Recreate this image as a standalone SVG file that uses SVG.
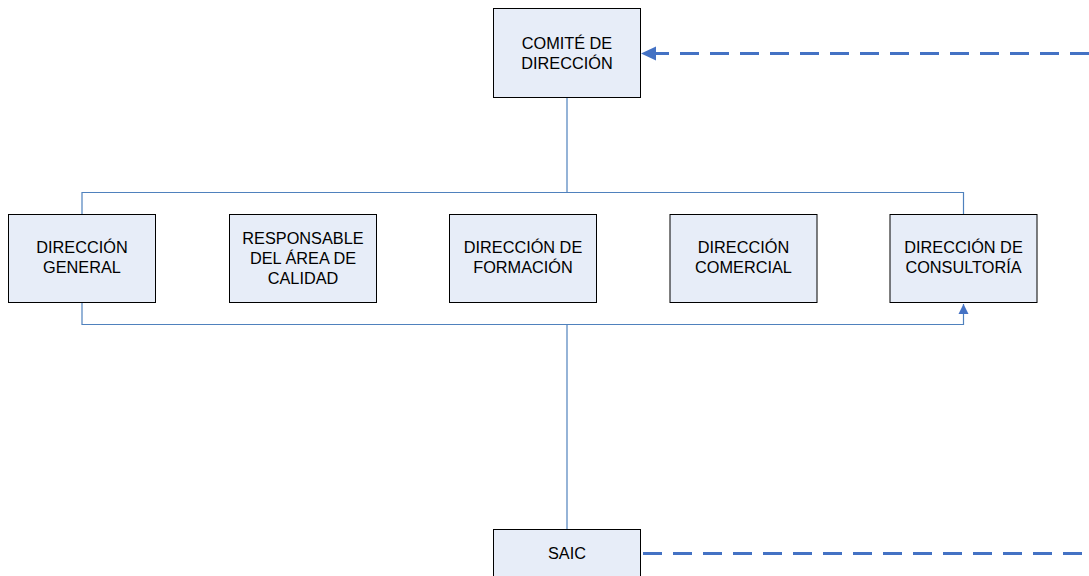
<svg xmlns="http://www.w3.org/2000/svg" width="1089" height="576" viewBox="0 0 1089 576">
<style>
.box{fill:#E7EDF8;stroke:#000;stroke-width:1}
.t{font-family:"Liberation Sans",Arial,sans-serif;font-size:16.3px;fill:#000;text-anchor:middle}
.ln{fill:none;stroke:#4F81BD;stroke-width:1.2}
.dash{fill:none;stroke:#4472C4;stroke-width:3;stroke-dasharray:19 11}
</style>
<defs>
<marker id="ah" markerWidth="10" markerHeight="12" refX="10" refY="6" orient="auto" markerUnits="userSpaceOnUse">
<path d="M0,1 L10,6 L0,11 Z" fill="#4472C4"/>
</marker>
</defs>
<g id="connectors">
<path class="ln" d="M567,97 V192.5 M82,214 V192.5 H963.5 V214"/>
<path class="ln" d="M82,302 V324.5 H963.5 V304" marker-end="url(#ah)"/>
<path class="ln" d="M567,324.5 V529"/>
<path class="dash" d="M1089,53.5 H656"/>
<path d="M641,53.5 L656,46.5 L656,60.5 Z" fill="#4472C4"/>
<path class="dash" d="M640,553.5 H1089" style="stroke-dashoffset:-3"/>
</g>
<g id="comite">
<rect class="box" x="493.5" y="8.5" width="147" height="89"/>
<text class="t" x="567" y="49">COMITÉ DE</text>
<text class="t" x="567" y="69">DIRECCIÓN</text>
</g>
<g id="direccion-general">
<rect class="box" x="8.5" y="214.5" width="147" height="88"/>
<text class="t" x="82" y="253">DIRECCIÓN</text>
<text class="t" x="82" y="273">GENERAL</text>
</g>
<g id="responsable-calidad">
<rect class="box" x="229.5" y="214.5" width="147" height="88"/>
<text class="t" x="303" y="244">RESPONSABLE</text>
<text class="t" x="303" y="264">DEL ÁREA DE</text>
<text class="t" x="303" y="284">CALIDAD</text>
</g>
<g id="direccion-formacion">
<rect class="box" x="449.5" y="214.5" width="147" height="88"/>
<text class="t" x="523" y="253">DIRECCIÓN DE</text>
<text class="t" x="523" y="273">FORMACIÓN</text>
</g>
<g id="direccion-comercial">
<rect class="box" x="670" y="214.5" width="147" height="88"/>
<text class="t" x="743.5" y="253">DIRECCIÓN</text>
<text class="t" x="743.5" y="273">COMERCIAL</text>
</g>
<g id="direccion-consultoria">
<rect class="box" x="890" y="214.5" width="147" height="88"/>
<text class="t" x="963.5" y="253">DIRECCIÓN DE</text>
<text class="t" x="963.5" y="273">CONSULTORÍA</text>
</g>
<g id="saic">
<rect class="box" x="493.5" y="529.5" width="147" height="60"/>
<text class="t" x="567" y="559">SAIC</text>
</g>
</svg>
